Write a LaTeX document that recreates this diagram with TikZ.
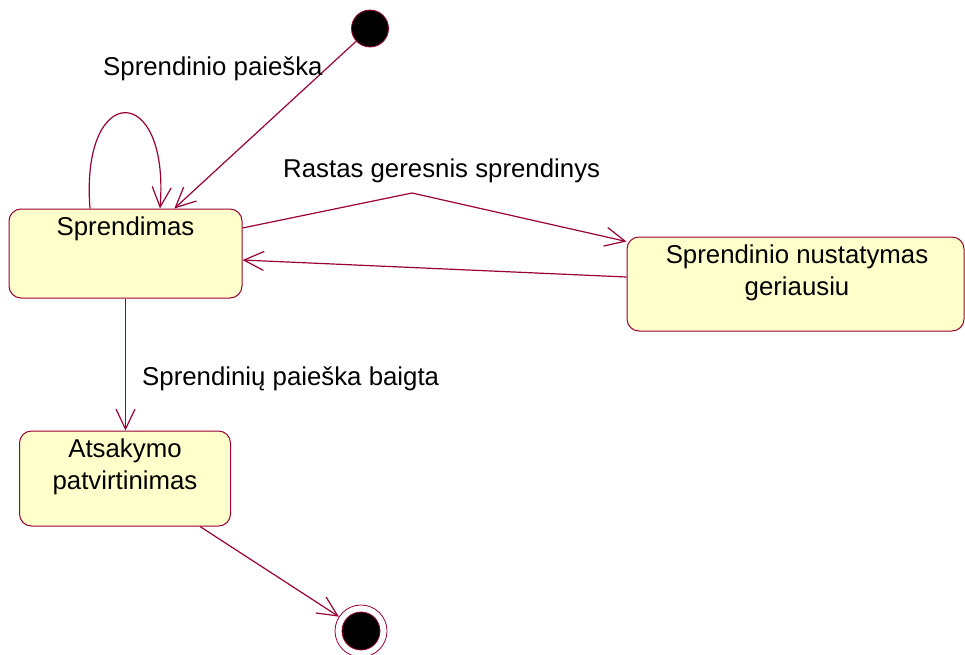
\documentclass[tikz,border=0pt]{standalone}
\usepackage{fontspec}
\setmainfont{Liberation Sans}
\usetikzlibrary{arrows.meta}
\definecolor{umlred}{RGB}{153,0,51}
\definecolor{umlfill}{RGB}{255,255,204}
\tikzset{
  statebox/.style={draw=umlred, fill=umlfill, line width=1pt, rounded corners=12pt,
    rectangle, inner sep=0pt},
  txt/.style={font=\fontsize{25.8}{32}\selectfont, inner sep=0pt, text=black},
  conn/.style={draw=umlred, line width=1.2pt, -{Straight Barb[length=20pt,width=19pt]}},
}
\begin{document}
\begin{tikzpicture}[x=1pt,y=-1pt]
\useasboundingbox (0,0) rectangle (965,654);

% states
\node[statebox, minimum width=233pt, minimum height=89pt] (S) at (125.5,253.5) {};
\node[statebox, minimum width=337pt, minimum height=94pt] (N) at (795.5,284) {};
\node[statebox, minimum width=211pt, minimum height=95pt] (A) at (125,478.5) {};
\node[circle, fill=black, draw=umlred, line width=0.8pt, minimum size=37pt, inner sep=0pt] (I) at (370,28.5) {};
\node[circle, fill=white, draw=umlred, line width=0.8pt, minimum size=52pt, inner sep=0pt] (F) at (361,631) {};
\node[circle, fill=black, draw=umlred, line width=0.8pt, minimum size=38pt, inner sep=0pt] (Fi) at (F) {};

% state texts
\node[txt, anchor=base] (tS) at (125.5,235) {Sprendimas};
\node[txt, anchor=base] (tN1) at (797,263) {Sprendinio nustatymas};
\node[txt, anchor=base] (tN2) at (797,295) {geriausiu};
\node[txt, anchor=base] (tA1) at (125,457) {Atsakymo};
\node[txt, anchor=base] (tA2) at (125,489) {patvirtinimas};

% connectors
\draw[conn] (I) -- (S);
\draw[conn] ([xshift=-35.5pt]S.north) .. controls (80,81) and (170,81) .. ([xshift=34.5pt]S.north);
\coordinate (bend) at (412,193);
\draw[conn] ([yshift=25.5pt]S.east) -- (bend) -- ([yshift=-5pt]N.north west);
\draw[conn] ([yshift=7pt]N.west) -- ([yshift=-6.5pt]S.east);
\draw[conn] (S.south) -- (S.south |- A.north);
\draw[conn] ([xshift=75pt]A.south) -- (F);

% labels
\node[txt, anchor=base west] (l1) at (103,75) {Sprendinio paieška};
\node[txt, anchor=base west] (l2) at (283,177) {Rastas geresnis sprendinys};
\node[txt, anchor=base west] (l3) at (142,385) {Sprendinių paieška baigta};
\end{tikzpicture}
\end{document}
